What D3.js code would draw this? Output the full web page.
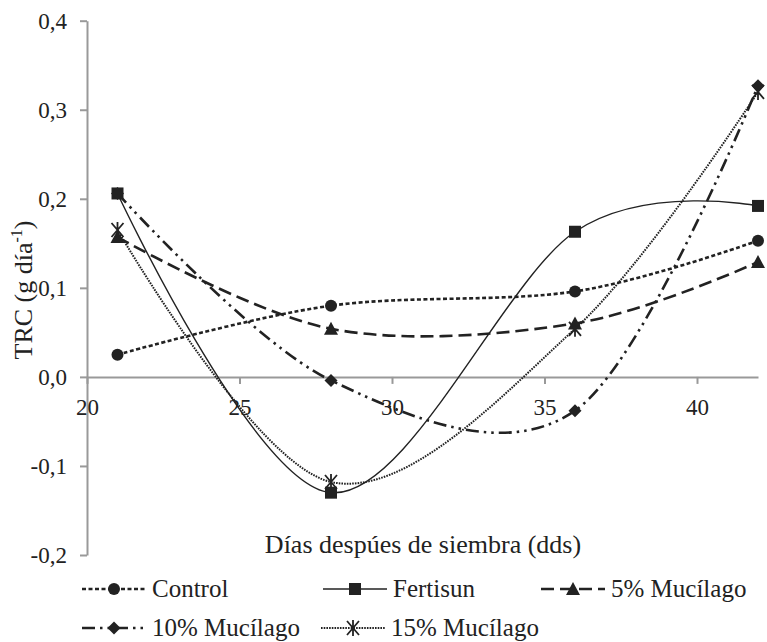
<!DOCTYPE html>
<html>
<head>
<meta charset="utf-8">
<script src="https://cdn.jsdelivr.net/npm/d3@7"></script>
</head>
<body style="margin:0;background:#fff">
<svg id="chart" width="767" height="642"></svg>
<script>
// data
const days = [21, 28, 36, 42];
const control = [0.025, 0.080, 0.096, 0.153];
const fertisun = [0.206, -0.130, 0.163, 0.192];
const muc5 = [0.157, 0.054, 0.060, 0.129];
const muc10 = [0.206, -0.004, -0.038, 0.327];
const muc15 = [0.165, -0.118, 0.054, 0.320];
const xTicks = [20, 25, 30, 35, 40];
const yTicks = [-0.2, -0.1, 0, 0.1, 0.2, 0.3, 0.4];

const FONT = '"Liberation Serif", "Times New Roman", serif';
const INK = '#222';

const series = [
    { name: 'Control', values: control, dash: '4,2.5', width: 2.6, marker: 'circle' },
    { name: 'Fertisun', values: fertisun, dash: null, width: 1.4, marker: 'square' },
    { name: '5% Mucílago', values: muc5, dash: '13,6', width: 2.6, marker: 'triangle' },
    { name: '10% Mucílago', values: muc10, dash: '13,5,2.5,5,2.5,5', width: 2.6, marker: 'diamond' },
    { name: '15% Mucílago', values: muc15, dash: '1.6,1.1', width: 2, marker: 'star' }
];

const svg = d3.select('#chart');
const x = d3.scaleLinear().domain([20, 42]).range([87, 758]);
const y = d3.scaleLinear().domain([-0.2, 0.4]).range([555, 20.7]);
const fmt = d => d.toFixed(1).replace('.', ',');

function serif(sel, size) {
    return sel.attr('font-family', FONT)
        .style('font-family', FONT, 'important')
        .attr('font-size', size)
        .attr('fill', INK);
}

// y axis
const yAxis = svg.append('g')
    .attr('transform', `translate(${x(20)},0)`)
    .call(d3.axisLeft(y).tickValues(yTicks).tickFormat(fmt).tickSize(7).tickSizeOuter(0));
yAxis.select('.domain').attr('stroke', '#999').attr('stroke-width', 2);
yAxis.selectAll('.tick line').attr('stroke', '#999').attr('stroke-width', 2);
serif(yAxis.selectAll('.tick text').attr('x', -20), 23);

// x axis on zero line
const xAxis = svg.append('g')
    .attr('transform', `translate(0,${y(0)})`)
    .call(d3.axisBottom(x).tickValues(xTicks).tickSize(7).tickSizeOuter(0));
xAxis.select('.domain').attr('stroke', '#999').attr('stroke-width', 2);
xAxis.selectAll('.tick line').attr('stroke', '#999').attr('stroke-width', 2);
serif(xAxis.selectAll('.tick text').attr('y', 22), 23);

// titles
serif(svg.append('text')
    .attr('x', 423).attr('y', 553)
    .attr('text-anchor', 'middle'), 26)
    .text('Días despúes de siembra (dds)');

const yt = serif(svg.append('text')
    .attr('transform', 'translate(32,290) rotate(-90)')
    .attr('text-anchor', 'middle'), 26);
yt.append('tspan').text('TRC (g día');
yt.append('tspan').attr('dy', -10).attr('font-size', 16).text('-1');
yt.append('tspan').attr('dy', 10).text(')');

const line = d3.line()
    .x(d => x(d[0]))
    .y(d => y(d[1]))
    .curve(d3.curveCardinal.tension(0));

function drawMarker(g, type, cx, cy) {
    if (type === 'circle') {
        g.append('circle').attr('cx', cx).attr('cy', cy).attr('r', 6).attr('fill', INK);
    } else if (type === 'square') {
        g.append('rect').attr('x', cx - 6).attr('y', cy - 6).attr('width', 12).attr('height', 12)
            .attr('fill', INK);
    } else if (type === 'triangle') {
        g.append('path').attr('d', `M${cx},${cy - 7}L${cx + 7},${cy + 6}L${cx - 7},${cy + 6}Z`)
            .attr('fill', INK);
    } else if (type === 'diamond') {
        g.append('path').attr('d', `M${cx},${cy - 6.5}L${cx + 6.5},${cy}L${cx},${cy + 6.5}L${cx - 6.5},${cy}Z`)
            .attr('fill', INK);
    } else if (type === 'star') {
        g.append('path')
            .attr('d', `M${cx - 6},${cy - 7}L${cx + 6},${cy + 7}M${cx + 6},${cy - 7}L${cx - 6},${cy + 7}M${cx},${cy - 8}L${cx},${cy + 8}`)
            .attr('stroke', INK).attr('stroke-width', 1.8).attr('fill', 'none');
    }
}

series.forEach(s => {
    const pts = days.map((d, i) => [d, s.values[i]]);
    const g = svg.append('g');
    g.append('path')
        .datum(pts)
        .attr('fill', 'none')
        .attr('stroke', INK)
        .attr('stroke-width', s.width)
        .attr('stroke-dasharray', s.dash)
        .attr('d', line);
    pts.forEach(p => drawMarker(g, s.marker, x(p[0]), y(p[1])));
});

// legend
const legendPos = [
    { x: 82, y: 589 }, { x: 323, y: 589 }, { x: 541, y: 589 },
    { x: 82, y: 628 }, { x: 321, y: 628 }
];
series.forEach((s, i) => {
    const p = legendPos[i];
    const g = svg.append('g');
    g.append('line')
        .attr('x1', p.x).attr('x2', p.x + 64).attr('y1', p.y).attr('y2', p.y)
        .attr('stroke', INK).attr('stroke-width', s.width)
        .attr('stroke-dasharray', s.dash);
    drawMarker(g, s.marker, p.x + 32, p.y);
    serif(g.append('text')
        .attr('x', p.x + 70).attr('y', p.y + 8), 25)
        .text(s.name);
});
</script>
</body>
</html>
